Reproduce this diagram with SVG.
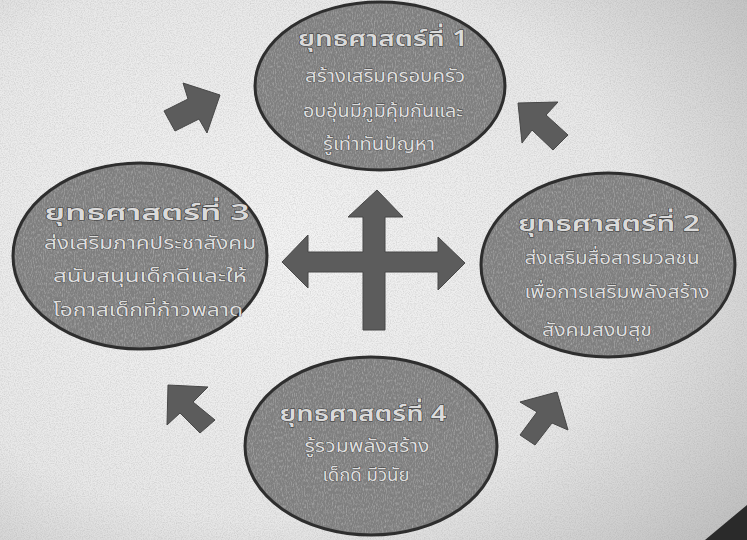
<svg xmlns="http://www.w3.org/2000/svg" width="747" height="540" viewBox="0 0 747 540">
  <defs>
    <radialGradient id="paper" cx="0.35" cy="0.45" r="0.85">
      <stop offset="0" stop-color="#f4f4f4"/>
      <stop offset="0.6" stop-color="#e8e8e8"/>
      <stop offset="1" stop-color="#bdbdbd"/>
    </radialGradient>
    <filter id="grain" x="0" y="0" width="100%" height="100%">
      <feTurbulence type="fractalNoise" baseFrequency="0.85" numOctaves="2" seed="3" result="n"/>
      <feColorMatrix in="n" type="matrix" values="0 0 0 0 0.3  0 0 0 0 0.3  0 0 0 0 0.3  0 0 0 -1.6 1.0" result="g"/>
      <feComposite in="g" in2="SourceGraphic" operator="in"/>
    </filter>
    <filter id="egrain" x="0" y="0" width="100%" height="100%">
      <feTurbulence type="fractalNoise" baseFrequency="0.9 0.35" numOctaves="2" seed="7" result="n"/>
      <feColorMatrix in="n" type="matrix" values="0 0 0 0 0.85  0 0 0 0 0.85  0 0 0 0 0.85  0 0 0 -2.2 1.25" result="g"/>
      <feComposite in="g" in2="SourceGraphic" operator="in"/>
    </filter>
    <style>
      .node ellipse.body { fill: #7f7f7f; stroke: #2e2e2e; stroke-width: 3; }
      .node ellipse.tex { fill: #000; filter: url(#egrain); opacity: 0.35; }
      .title { font-family: "Noto Sans Thai", "Loma", "Garuda", "Noto Sans", "DejaVu Sans", sans-serif; font-size: 22px; font-weight: 600; fill: #dadada; stroke: #333; stroke-width: 0.9; paint-order: stroke; text-anchor: middle; }
      .line { font-family: "Noto Sans Thai", "Loma", "Garuda", "Noto Sans", "DejaVu Sans", sans-serif; font-size: 18px; fill: #dedede; stroke: #3a3a3a; stroke-width: 0.7; paint-order: stroke; text-anchor: middle; }
      .arrow { fill: #5c5c5c; stroke: #474747; stroke-width: 1; }
    </style>
  </defs>

  <rect x="0" y="0" width="747" height="540" fill="url(#paper)"/>
  <rect x="0" y="0" width="747" height="540" fill="#000" filter="url(#grain)" opacity="0.35"/>
  <polygon points="747,505 747,540 705,540" fill="#2a2a2a"/>

  <g id="connectors">
    <polygon id="cross" class="arrow" points="377,190 403,217 385,217 385,252 438,252 438,237 465,263 438,290 438,272 385,272 385,330 363,330 363,272 308,272 308,288 282,262 308,235 308,252 363,252 363,217 348,217"/>
    <polygon id="arrow-tl" class="arrow" points="164,111 188,99 183,83 220,95 207,133 199,119 175,131"/>
    <polygon id="arrow-tr" class="arrow" points="518,103 558,102 546,115 568,135 553,150 532,130 522,143"/>
    <polygon id="arrow-bl" class="arrow" points="168,385 208,387 193,402 215,420 200,433 180,413 167,425"/>
    <polygon id="arrow-br" class="arrow" points="557,392 568,430 552,423 535,445 520,435 537,412 520,402"/>
  </g>

  <g id="strategy1" class="node">
    <ellipse class="body" cx="380" cy="86" rx="125" ry="84"/>
    <ellipse class="tex" cx="380" cy="86" rx="123" ry="82"/>
    <text class="title" x="383" y="46" textLength="170" lengthAdjust="spacingAndGlyphs">ยุทธศาสตร์ที่ 1</text>
    <text class="line" x="385" y="82" textLength="160" lengthAdjust="spacingAndGlyphs">สร้างเสริมครอบครัว</text>
    <text class="line" x="383" y="117" textLength="160" lengthAdjust="spacingAndGlyphs">อบอุ่นมีภูมิคุ้มกันและ</text>
    <text class="line" x="379" y="150" textLength="112" lengthAdjust="spacingAndGlyphs">รู้เท่าทันปัญหา</text>
  </g>

  <g id="strategy3" class="node">
    <ellipse class="body" cx="140" cy="256" rx="127" ry="93"/>
    <ellipse class="tex" cx="140" cy="256" rx="125" ry="91"/>
    <text class="title" x="147" y="220" textLength="205" lengthAdjust="spacingAndGlyphs">ยุทธศาสตร์ที่ 3</text>
    <text class="line" x="150" y="249" textLength="212" lengthAdjust="spacingAndGlyphs">ส่งเสริมภาคประชาสังคม</text>
    <text class="line" x="150" y="282" textLength="194" lengthAdjust="spacingAndGlyphs">สนับสนุนเด็กดีและให้</text>
    <text class="line" x="148" y="316" textLength="190" lengthAdjust="spacingAndGlyphs">โอกาสเด็กที่ก้าวพลาด</text>
  </g>

  <g id="strategy2" class="node">
    <ellipse class="body" cx="608" cy="265" rx="127" ry="92"/>
    <ellipse class="tex" cx="608" cy="265" rx="125" ry="90"/>
    <text class="title" x="609" y="231" textLength="182" lengthAdjust="spacingAndGlyphs">ยุทธศาสตร์ที่ 2</text>
    <text class="line" x="612" y="264" textLength="175" lengthAdjust="spacingAndGlyphs">ส่งเสริมสื่อสารมวลชน</text>
    <text class="line" x="617" y="298" textLength="185" lengthAdjust="spacingAndGlyphs">เพื่อการเสริมพลังสร้าง</text>
    <text class="line" x="597" y="336" textLength="110" lengthAdjust="spacingAndGlyphs">สังคมสงบสุข</text>
  </g>

  <g id="strategy4" class="node">
    <ellipse class="body" cx="371" cy="446" rx="126" ry="89"/>
    <ellipse class="tex" cx="371" cy="446" rx="124" ry="87"/>
    <text class="title" x="363" y="421" textLength="167" lengthAdjust="spacingAndGlyphs">ยุทธศาสตร์ที่ 4</text>
    <text class="line" x="367" y="452" textLength="125" lengthAdjust="spacingAndGlyphs">รู้รวมพลังสร้าง</text>
    <text class="line" x="366" y="481" textLength="87" lengthAdjust="spacingAndGlyphs">เด็กดี มีวินัย</text>
  </g>
</svg>
